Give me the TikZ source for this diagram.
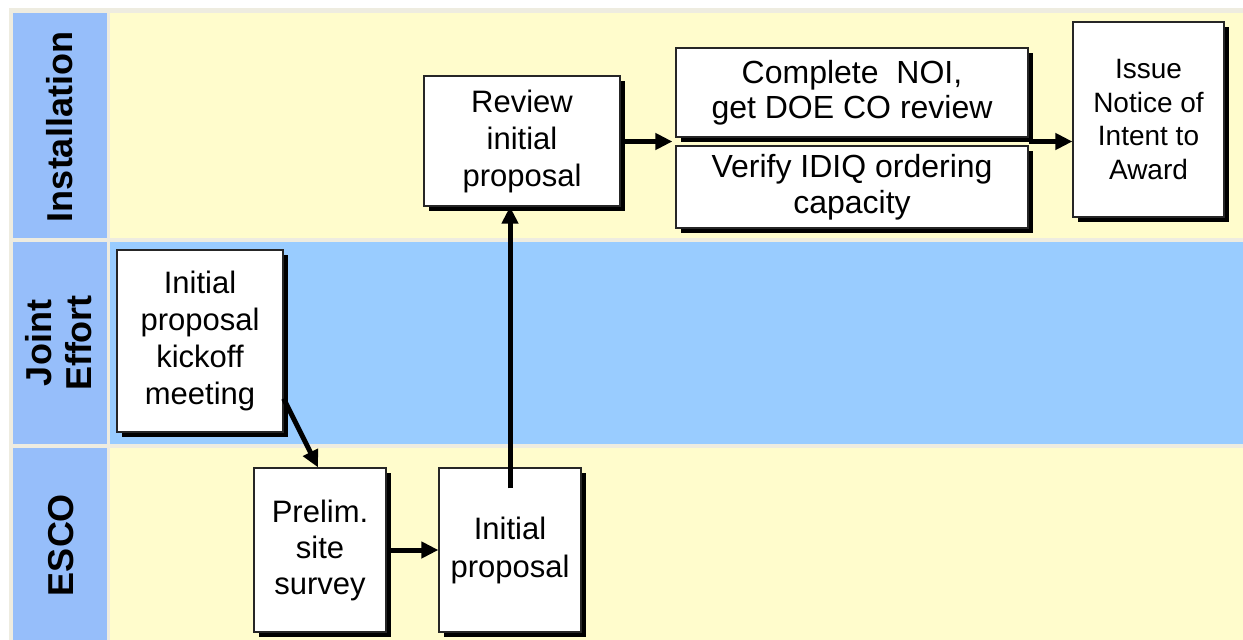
\documentclass[tikz,border=0pt]{standalone}
\usepackage{fontspec}
\setmainfont{Liberation Sans}
\usetikzlibrary{arrows.meta,shadows,calc}

\definecolor{framecol}{RGB}{238,236,224}
\definecolor{headblue}{RGB}{150,190,250}
\definecolor{laneyellow}{RGB}{255,252,204}
\definecolor{laneblue}{RGB}{153,204,255}

\begin{document}
\begin{tikzpicture}[x=1pt,y=-1pt,
  stepbox/.style={draw=black!85, line width=1.2pt, fill=white, inner sep=0pt,
    align=center, font=\fontsize{31}{37}\selectfont,
    drop shadow={shadow xshift=5pt, shadow yshift=-5pt, fill=black, opacity=1}},
  lanehead/.style={font=\bfseries\fontsize{36}{40}\selectfont, rotate=90, align=center},
  flow/.style={line width=5pt, -{Triangle[length=17pt,width=16pt]}}]

\useasboundingbox (0,0) rectangle (1243,640);
\fill[white] (0,0) rectangle (1243,640);
\fill[framecol] (9,8) rectangle (1243,640);

% swim lanes: header column and lane bodies
\fill[headblue] (13,13) rectangle (107,238);
\fill[headblue] (13,242) rectangle (107,444);
\fill[headblue] (13,448) rectangle (107,640);
\fill[laneyellow] (110,13) rectangle (1243,238);
\fill[laneblue] (110,242) rectangle (1243,444);
\fill[laneyellow] (110,448) rectangle (1243,640);

\node[lanehead] (hinst) at (60,127) {Installation};
\node[lanehead] (hjoint) at (59,343) {Joint\\Effort};
\node[lanehead] (hesco) at (61,545) {ESCO};

% process steps
\node[stepbox, minimum width=196pt, minimum height=130pt] (review) at (522,141) {Review\\initial\\proposal};
\node[stepbox, minimum width=352pt, minimum height=89pt, font=\fontsize{32}{35}\selectfont] (noi) at (852,92.5) {Complete~~NOI,\\get DOE CO review};
\node[stepbox, minimum width=352pt, minimum height=82pt, font=\fontsize{32}{36}\selectfont] (idiq) at (852,187) {Verify IDIQ ordering\\capacity};
\node[stepbox, minimum width=151pt, minimum height=195pt, font=\fontsize{28}{33.5}\selectfont] (issue) at (1148.5,119.5) {Issue\\Notice of\\Intent to\\Award};
\node[stepbox, minimum width=166pt, minimum height=182pt] (kick) at (200,341) {Initial\\proposal\\kickoff\\meeting};
\node[stepbox, minimum width=132pt, minimum height=164pt, font=\fontsize{31}{36}\selectfont] (prelim) at (320,550) {Prelim.\\site\\survey};
\node[stepbox, minimum width=142pt, minimum height=164pt, font=\fontsize{31}{38}\selectfont] (init) at (510,550) {Initial\\proposal};

\coordinate (lsplit) at ($($(noi.south west)!0.5!(idiq.north west)$)+(-3,0)$);
\coordinate (rsplit) at ($(noi.south east)!0.5!(idiq.north east)$);

% connectors
\draw[flow] ([yshift=34pt]kick.south east) -- ([xshift=-2pt]prelim.north);
\draw[flow] (prelim.east) -- (init.west);
\draw[flow] ([yshift=-21pt]init.north) -- (init.north |- review.south);
\draw[flow] (review.east |- lsplit) -- (lsplit);
\draw[flow] (rsplit) -- (issue.west |- rsplit);
\end{tikzpicture}
\end{document}
